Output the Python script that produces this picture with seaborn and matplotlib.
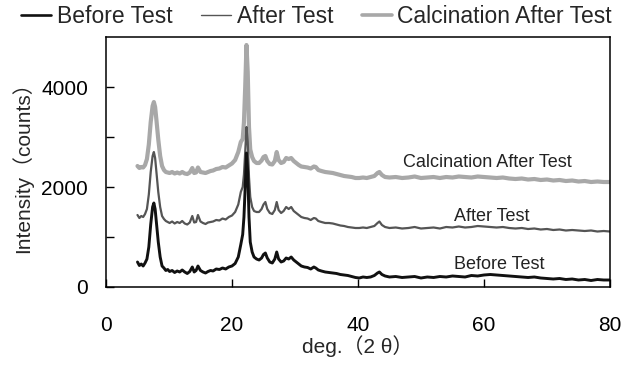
import numpy as np
import pandas as pd
import matplotlib
matplotlib.use('Agg')
import matplotlib.pyplot as plt
import seaborn as sns

# ── data (2θ in degrees, intensity in counts) ──
two_theta = [
    5.0, 5.3, 5.6, 5.9, 6.2, 6.5, 6.8, 7.1, 7.4, 7.6, 7.8, 8.0, 8.3, 8.6, 8.9,
    9.2, 9.5, 9.8, 10.1, 10.5, 10.9, 11.3, 11.7, 12.1, 12.5, 12.9, 13.3, 13.7,
    14.0, 14.3, 14.6, 15.0, 15.4, 15.8, 16.2, 16.6, 17.0, 17.5, 18.0, 18.5,
    19.0, 19.5, 20.0, 20.5, 21.0, 21.4, 21.7, 21.9, 22.1, 22.3, 22.5, 22.7,
    22.9, 23.2, 23.5, 23.9, 24.3, 24.7, 25.0, 25.3, 25.6, 26.0, 26.4, 26.8,
    27.1, 27.4, 27.8, 28.2, 28.6, 29.0, 29.4, 29.8, 30.2, 30.6, 31.0, 31.5,
    32.0, 32.5, 33.0, 33.3, 33.7, 34.2, 34.8, 35.4, 36.0, 36.6, 37.2, 37.8,
    38.4, 39.0, 39.6, 40.2, 40.8, 41.4, 42.0, 42.6, 43.1, 43.4, 43.8, 44.3,
    45.0, 46, 47, 48, 49, 50, 51, 52, 53, 54, 55, 56, 57, 58, 59, 60, 61, 62,
    63, 64, 65, 66, 67, 68, 69, 70, 71, 72, 73, 74, 75, 76, 77, 78, 79, 80,
]

before_test = [
    500, 430, 460, 420, 480, 560, 800, 1250, 1600, 1680, 1560, 1300, 900, 600, 420,
    380, 330, 350, 310, 330, 290, 320, 300, 340, 300, 270, 310, 400,
    300, 330, 420, 330, 300, 280, 310, 330, 320, 360, 350, 380,
    360, 400, 420, 470, 600, 850, 1050, 1400, 2000, 2680, 2300, 1400,
    900, 700, 600, 560, 540, 580, 650, 680, 580, 500, 480, 560,
    700, 560, 500, 520, 580, 560, 600, 540, 500, 460, 420, 400,
    390, 360, 400, 380, 340, 320, 300, 290, 280, 270, 250, 240,
    230, 210, 190, 180, 200, 190, 200, 230, 280, 300, 250, 220,
    200, 210, 190, 200, 210, 180, 200, 190, 210, 200, 220, 210, 200, 230, 220, 240, 250, 240,
    230, 220, 210, 200, 190, 200, 180, 170, 160, 170, 150, 160, 140, 150, 130, 150, 140, 140,
]

after_test = [
    1440, 1380, 1420, 1400, 1460, 1560, 1850, 2300, 2620, 2700, 2580, 2300, 1900, 1600, 1420,
    1360, 1320, 1300, 1280, 1310, 1270, 1300, 1280, 1320, 1270, 1250, 1290, 1420,
    1290, 1300, 1440, 1310, 1280, 1260, 1290, 1300, 1310, 1340, 1330, 1370,
    1350, 1400, 1430, 1500, 1650, 1900, 2000, 2250, 2700, 3200, 2900, 2200,
    1800, 1600, 1520, 1500, 1500, 1560, 1650, 1700, 1560, 1480, 1460, 1540,
    1700, 1540, 1480, 1520, 1600, 1560, 1600, 1520, 1480, 1440, 1400, 1380,
    1370, 1340, 1380, 1370, 1320, 1300, 1280, 1280, 1270, 1250, 1230, 1220,
    1200, 1190, 1180, 1180, 1190, 1180, 1200, 1220, 1280, 1310, 1240, 1200,
    1180, 1190, 1170, 1180, 1200, 1170, 1180, 1190, 1170, 1200, 1190, 1210, 1190, 1200, 1220, 1210, 1200, 1190,
    1200, 1180, 1170, 1180, 1160, 1170, 1150, 1160, 1140, 1150, 1130, 1140, 1130, 1120, 1130, 1110, 1120, 1110,
]

calcination_after_test = [
    2420, 2380, 2400, 2390, 2440, 2560, 2850, 3300, 3620, 3700, 3600, 3350, 2950, 2620, 2420,
    2340, 2300, 2290, 2280, 2300, 2270, 2290, 2270, 2300, 2270, 2260, 2290, 2380,
    2280, 2290, 2390, 2300, 2290, 2280, 2300, 2320, 2330, 2360, 2370, 2400,
    2390, 2430, 2470, 2540, 2700, 2900, 2960, 3300, 4000, 4840, 4300, 3200,
    2750, 2600, 2520, 2480, 2480, 2530, 2600, 2620, 2520, 2460, 2450, 2520,
    2700, 2540, 2480, 2500, 2580, 2560, 2580, 2520, 2480, 2440, 2410, 2400,
    2390, 2370, 2410, 2400, 2340, 2320, 2300, 2290, 2280, 2260, 2240, 2220,
    2210, 2200, 2180, 2180, 2190, 2180, 2200, 2220, 2280, 2300, 2240, 2200,
    2190, 2200, 2180, 2190, 2210, 2180, 2190, 2200, 2180, 2200, 2190, 2210, 2200, 2190, 2210, 2200, 2190, 2180,
    2190, 2170, 2160, 2170, 2150, 2160, 2140, 2150, 2130, 2140, 2120, 2130, 2110, 2120, 2100, 2110, 2100, 2100,
]

series_names = ['Before Test', 'After Test', 'Calcination After Test']
series_colors = ['#111111', '#555555', '#a8a8a8']
series_widths = [2.1, 1.6, 3.0]
legend_widths = [1.9, 1.0, 2.6]

# curve labels inside the plot (x, y in data units)
label_x = [62.5, 61.3, 60.5]
label_y = [440, 1420, 2500]

sns.set_style('ticks')
plt.rcParams['font.family'] = ['Liberation Sans', 'Noto Sans CJK JP', 'DejaVu Sans']

fig = plt.figure(figsize=(6.26, 3.82), dpi=100)
ax = fig.add_axes([0.1693, 0.2487, 0.8051, 0.6544])

all_values = [before_test, after_test, calcination_after_test]
# draw the light curve first so the darker ones sit on top
for i in [2, 1, 0]:
    df = pd.DataFrame({'deg': two_theta, 'counts': all_values[i]})
    sns.lineplot(data=df, x='deg', y='counts', ax=ax, color=series_colors[i],
                 linewidth=series_widths[i], sort=False, estimator=None)

for i, name in enumerate(series_names):
    ax.text(label_x[i], label_y[i], name, ha='center', va='center',
            fontsize=13, color='#222222')

ax.set_xlim(0, 80)
ax.set_ylim(0, 5000)
ax.set_xticks([0, 20, 40, 60, 80])
ax.set_yticks([0, 2000, 4000])
ax.set_yticks([1000, 3000], minor=True)
ax.tick_params(axis='both', which='both', direction='in', length=5.5, width=1,
               labelsize=15, colors='black')
ax.tick_params(axis='x', pad=21)
ax.tick_params(axis='y', pad=13)
for s in ax.spines.values():
    s.set_visible(True)
    s.set_color('black')
    s.set_linewidth(1.1)

ax.set_xlabel('deg.（2 θ）', fontsize=15, labelpad=0)
ax.set_ylabel('Intensity（counts）', fontsize=15, labelpad=6)

# legend keys: thin line for After Test, thick ones for the other two
handles = [plt.Line2D([], [], color=series_colors[i], linewidth=legend_widths[i])
           for i in range(3)]
fig.legend(handles, series_names, loc='center', bbox_to_anchor=(0.506, 0.957),
           ncol=3, frameon=False, fontsize=16.5, handlelength=1.3,
           handletextpad=0.25, columnspacing=1.25, borderpad=0)

plt.savefig('out.png', dpi=100, facecolor='white')
plt.close()
